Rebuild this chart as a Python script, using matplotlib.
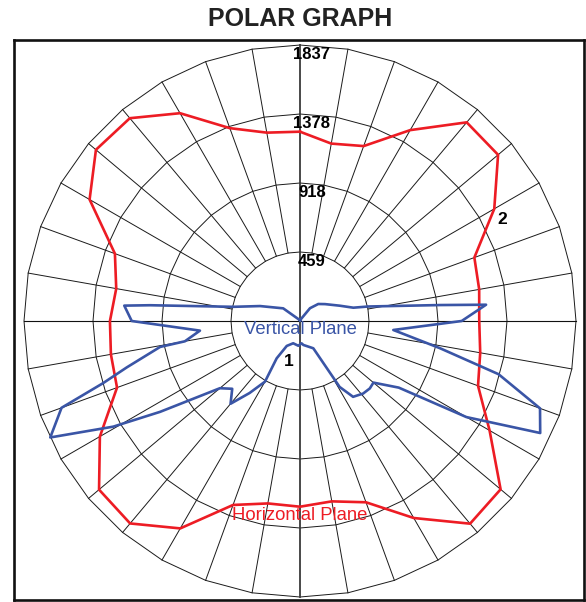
import numpy as np
import matplotlib
matplotlib.use("Agg")
import matplotlib.pyplot as plt

# ring values (candela) shown on the vertical axis
ring_labels = ["459", "918", "1378", "1837"]
r_max = 1837.0
rings = [r_max / 4 * k for k in range(1, 5)]

# curve 2: horizontal plane, every 10 deg (clockwise from top)
horiz_ang = list(range(0, 360, 10))
horiz_cd = [1260, 1199, 1239, 1467, 1726, 1721, 1493, 1235, 1211, 1193,
            1218, 1261, 1457, 1743, 1761, 1514, 1284, 1219, 1236, 1233,
            1303, 1594, 1759, 1746, 1538, 1296, 1278, 1265, 1242, 1311,
            1617, 1773, 1762, 1597, 1366, 1273]

# curve 1: vertical plane
vert_ang = [0, 38, 47, 56, 69, 76, 78, 83.5, 85, 90,
            95.5, 101, 105, 110, 115, 120, 124, 130, 134, 139,
            145, 149, 154, 172, 176, 184, 197, 208, 212, 210,
            215, 220, 225, 230, 237, 240.5, 245, 250, 252.5, 255,
            259.5, 260, 264.5, 270, 275, 276, 282, 290.5, 307, 360]
vert_cd = [5, 108, 166, 201, 284, 366, 464, 938, 1243, 1076,
           624, 949, 1368, 1700, 1764, 1279, 793, 638, 646, 640,
           616, 512, 202, 161, 149, 165, 155, 188, 293, 466,
           585, 719, 638, 696, 1110, 1428, 1834, 1689, 1373, 1194,
           947, 778, 669, 1120, 1174, 1004, 454, 284, 140, 5]

RED = "#ed1c24"
BLUE = "#3a55a6"


def to_xy(ang, val):
    a = np.radians(np.asarray(ang, dtype=float))
    v = np.asarray(val, dtype=float)
    return v * np.sin(a), v * np.cos(a)


fig = plt.figure(figsize=(5.86, 6.02), dpi=100)
ax = fig.add_axes([14 / 586, 2 / 602, 570 / 586, 560 / 602])
s = 1837.0 / 276.0  # cd per pixel
ax.set_xlim(-286 * s, 284 * s)
ax.set_ylim(-279 * s, 281 * s)
ax.set_xticks([])
ax.set_yticks([])
for sp in ax.spines.values():
    sp.set_linewidth(1.9)
    sp.set_color("#111111")

# polygon rings
grid_ang = np.arange(0, 361, 10)
for r in rings:
    gx, gy = to_xy(grid_ang, np.full(len(grid_ang), r))
    ax.plot(gx, gy, color="#1a1a1a", lw=0.7, zorder=1)

# spokes
for a in range(0, 360, 10):
    if a % 90 == 0:
        continue
    sx, sy = to_xy([a, a], [rings[0], r_max])
    ax.plot(sx, sy, color="#1a1a1a", lw=0.7, zorder=1)

ax.plot([-r_max, r_max], [0, 0], color="#111111", lw=0.8, zorder=1)
ax.plot([0, 0], [-r_max, r_max], color="#3a3a3a", lw=1.3, zorder=1)

# curves
hx, hy = to_xy(horiz_ang + [360], horiz_cd + [horiz_cd[0]])
ax.plot(hx, hy, color=RED, lw=1.9, zorder=3)
vx, vy = to_xy(vert_ang, vert_cd)
ax.plot(vx, vy, color=BLUE, lw=1.9, zorder=3)

# ring labels
for r, lab in zip(rings, ring_labels):
    ax.text(12 * s, r - 14 * s, lab, ha="center", va="baseline",
            fontsize=12, fontweight="bold", family=["Liberation Sans"],
            color="black", zorder=4)

ax.text(-11 * s, -41 * s, "1", ha="center", va="center", fontsize=12.5,
        fontweight="bold", family=["Liberation Sans"], zorder=4)
ax.text(202 * s, 101 * s, "2", ha="center", va="center", fontsize=12.5,
        fontweight="bold", family=["Liberation Sans"], zorder=4)

ax.text(0, -9 * s, "Vertical Plane", ha="center", va="center", fontsize=13.3,
        color=BLUE, family=["Liberation Sans"], zorder=4)
ax.text(0, -195 * s, "Horizontal Plane", ha="center", va="center",
        fontsize=13.3, color=RED, family=["Liberation Sans"], zorder=4)

fig.text(0.512, 1 - 19 / 602, "POLAR GRAPH", ha="center", va="center",
         fontsize=18, fontweight="bold",
         family=["Liberation Sans"], color="#222222")

fig.savefig("out.png", dpi=100)
